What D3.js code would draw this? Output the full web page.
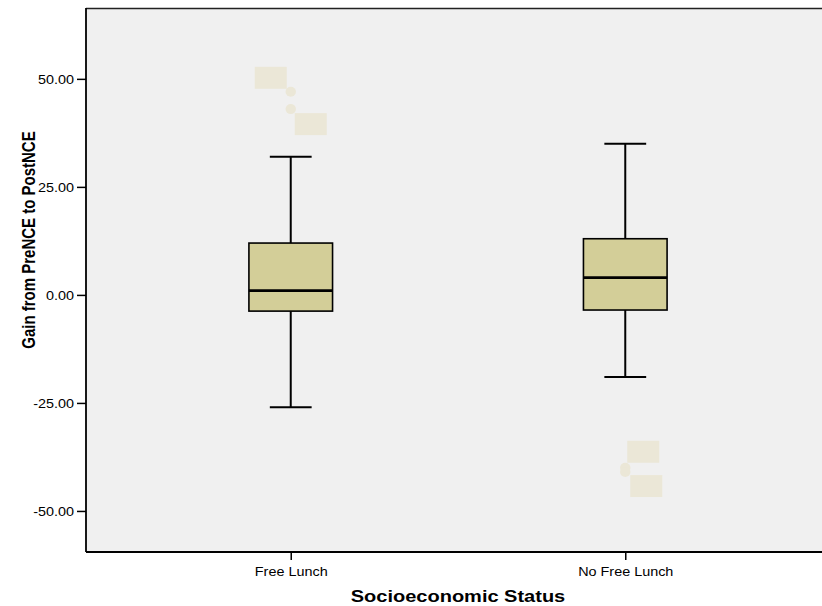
<!DOCTYPE html>
<html>
<head>
<meta charset="utf-8">
<script src="https://cdn.jsdelivr.net/npm/d3@7"></script>
<style>
  html, body { margin: 0; padding: 0; background: #ffffff; }
  svg { display: block; font-family: "Liberation Sans", Arial, sans-serif; }
</style>
</head>
<body>
<svg id="chart" width="822" height="606"></svg>
<script>
// Gain from PreNCE to PostNCE, by socioeconomic status
const categories = ["Free Lunch", "No Free Lunch"];
const whiskerLow  = [-26, -19];
const q1          = [-3.75, -3.5];
const medians     = [1, 4];
const q3          = [12, 13];
const whiskerHigh = [32, 35];

// outlying cases: group index and value
const outlierGroup = [0, 0, 1, 1];
const outlierValue = [47, 43, -40, -41];

const yTicks = [-50, -25, 0, 25, 50];

// ---- layout ----
const W = 822, H = 606;
const plot = { left: 86, top: 8, right: 822, bottom: 552 };

const svg = d3.select("#chart");

const x = d3.scalePoint()
  .domain(categories)
  .range([plot.left, plot.left + 744])
  .padding(0.612);

const y = d3.scaleLinear()
  .domain([-59.5, 66.4])
  .range([plot.bottom, plot.top]);

const fmt = d3.formatLocale({ decimal: ".", thousands: ",", grouping: [3], currency: ["", ""], minus: "-" }).format(".2f");

// plot background
svg.append("rect")
  .attr("x", plot.left).attr("y", plot.top)
  .attr("width", plot.right - plot.left).attr("height", plot.bottom - plot.top)
  .attr("fill", "#f0f0f0");
svg.append("line")
  .attr("x1", plot.left).attr("x2", plot.right)
  .attr("y1", plot.top + 0.5).attr("y2", plot.top + 0.5)
  .attr("stroke", "#222").attr("stroke-width", 1.5);

// box plots
const boxW = x.step() * 0.25;
const capW = boxW / 2;
const boxes = svg.append("g");
categories.forEach((c, i) => {
  const cx = x(c);
  const g = boxes.append("g");
  // whiskers
  g.append("line").attr("x1", cx).attr("x2", cx)
    .attr("y1", y(q3[i])).attr("y2", y(whiskerHigh[i]))
    .attr("stroke", "#000").attr("stroke-width", 2);
  g.append("line").attr("x1", cx).attr("x2", cx)
    .attr("y1", y(q1[i])).attr("y2", y(whiskerLow[i]))
    .attr("stroke", "#000").attr("stroke-width", 2);
  [whiskerHigh[i], whiskerLow[i]].forEach(v => {
    g.append("line").attr("x1", cx - capW / 2).attr("x2", cx + capW / 2)
      .attr("y1", y(v)).attr("y2", y(v))
      .attr("stroke", "#000").attr("stroke-width", 2);
  });
  // box
  g.append("rect")
    .attr("x", cx - boxW / 2).attr("y", y(q3[i]))
    .attr("width", boxW).attr("height", y(q1[i]) - y(q3[i]))
    .attr("fill", "#d3ce98").attr("stroke", "#000").attr("stroke-width", 1.6);
  // median
  g.append("line").attr("x1", cx - boxW / 2).attr("x2", cx + boxW / 2)
    .attr("y1", y(medians[i])).attr("y2", y(medians[i]))
    .attr("stroke", "#000").attr("stroke-width", 2.6);
});

// outliers with their (blank) case-label boxes
const labelW = 32, labelH = 22;
// label placement relative to each point: [dx of box left edge, dy of box top edge]
const labelPlacement = [[-36, -25], [4, 4], [2, -27], [5, 3]];
const outG = svg.append("g");
outlierValue.forEach((v, k) => {
  const cx = x(categories[outlierGroup[k]]);
  const cy = y(v);
  const [dx, dy] = labelPlacement[k];
  outG.append("rect")
    .attr("x", cx + dx).attr("y", cy + dy)
    .attr("width", labelW).attr("height", labelH)
    .attr("fill", "#ebe7d7");
  outG.append("ellipse")
    .attr("cx", cx).attr("cy", cy).attr("rx", 5.2).attr("ry", 5)
    .attr("fill", "#ebe7d7");
});

// y axis
const yAxis = svg.append("g")
  .attr("transform", `translate(${plot.left},0)`)
  .call(d3.axisLeft(y).tickValues(yTicks).tickFormat(fmt).tickSize(9).tickSizeOuter(0));
yAxis.select(".domain").remove();
yAxis.selectAll(".tick line").attr("stroke", "#000").attr("stroke-width", 1.5);
yAxis.selectAll(".tick text")
  .attr("x", 0).attr("dy", "0.35em")
  .attr("transform", "translate(-12,0) scale(1.2,1)")
  .attr("font-size", 12).attr("fill", "#000")
  .attr("font-family", "Liberation Sans, Arial, sans-serif");
svg.append("line")
  .attr("x1", plot.left).attr("x2", plot.left)
  .attr("y1", plot.top).attr("y2", plot.bottom)
  .attr("stroke", "#000").attr("stroke-width", 1.8);

// x axis
const xAxis = svg.append("g")
  .attr("transform", `translate(0,${plot.bottom})`)
  .call(d3.axisBottom(x).tickSize(8).tickSizeOuter(0));
xAxis.select(".domain").remove();
xAxis.selectAll(".tick line").attr("stroke", "#000").attr("stroke-width", 1.5);
xAxis.selectAll(".tick text")
  .attr("y", 0).attr("dy", "0.35em")
  .attr("transform", "translate(0,20) scale(1.2,1)")
  .attr("font-size", 12).attr("fill", "#000")
  .attr("font-family", "Liberation Sans, Arial, sans-serif");
svg.append("line")
  .attr("x1", plot.left).attr("x2", plot.right)
  .attr("y1", plot.bottom).attr("y2", plot.bottom)
  .attr("stroke", "#000").attr("stroke-width", 1.8);

// axis titles
svg.append("text")
  .attr("transform", "translate(458,596) scale(1.25,1)")
  .attr("text-anchor", "middle").attr("dy", "0.35em")
  .attr("font-size", 16).attr("font-weight", "bold").attr("fill", "#000")
  .text("Socioeconomic Status");
svg.append("text")
  .attr("transform", "translate(28,240) rotate(-90) scale(1,1.25)")
  .attr("text-anchor", "middle").attr("dy", "0.35em")
  .attr("font-size", 15).attr("font-weight", "bold").attr("fill", "#000")
  .text("Gain from PreNCE to PostNCE");
</script>
</body>
</html>
